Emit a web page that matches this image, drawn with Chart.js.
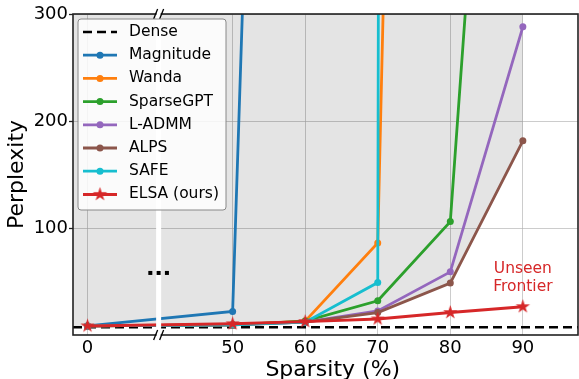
<!DOCTYPE html>
<html lang="en">
<head>
<meta charset="UTF-8">
<title>Perplexity vs Sparsity</title>
<script src="https://cdn.jsdelivr.net/npm/chart.js@4.4.0/dist/chart.umd.min.js"></script>
<style>
  html, body { margin: 0; padding: 0; background: #fff; overflow: hidden; }
  canvas { display: block; }
</style>
</head>
<body>
<canvas id="chart" width="579" height="379"></canvas>
<script>
// data
const sparsity = [0, 50, 60, 70, 80, 90];
const sparsityLabels = ['0', '50', '60', '70', '80', '90'];
const densePpl = 7.2;
const magnitude = [8.5, 22, 2100, null, null, null];
const wanda     = [8.5, 9.5, 13, 86, 3000, null];
const sparsegpt = [8.5, 9.5, 13, 32, 106, 1050];
const ladmm     = [8.5, 9.5, 12, 22.5, 59, 288];
const alps      = [8.5, 9.5, 12, 21, 48.5, 181.5];
const safe      = [8.5, 9.5, 12, 49, 50000, null];
const elsa      = [8.5, 10.5, 12.5, 15, 21, 26.5];
const yTicks = [100, 200, 300];

// broken x axis: 0 sits two slots left of 50
const axisPos = s => s === 0 ? 0 : s / 10 - 3;
const X_MIN = -0.2, X_MAX = 6.76;
const BREAK_POS = 0.98;

const FONT = "'DejaVu Sans', sans-serif";
Chart.defaults.font.family = FONT;
Chart.defaults.color = '#000';

function makeStar(r, color) {
  const s = Math.ceil(r * 2 + 2);
  const c = document.createElement('canvas');
  c.width = s; c.height = s;
  const g = c.getContext('2d');
  g.translate(s / 2, s / 2);
  g.beginPath();
  for (let i = 0; i < 10; i++) {
    const rad = i % 2 ? r * 0.382 : r;
    const a = -Math.PI / 2 + i * Math.PI / 5;
    g.lineTo(rad * Math.cos(a), rad * Math.sin(a));
  }
  g.closePath();
  g.fillStyle = color;
  g.fill();
  return c;
}
const star = makeStar(7.5, '#d62728');

const pts = arr => arr.map((v, i) => ({ x: axisPos(sparsity[i]), y: v })).filter(p => p.y !== null);

// lower envelope of the baselines -> boundary of the shaded "seen" region
const baselines = [magnitude, wanda, sparsegpt, ladmm, alps, safe];
const frontier = sparsity.map((s, i) => Math.min(...baselines.map(b => b[i]).filter(v => v !== null)));
const frontierPts = [{ x: X_MIN, y: frontier[0] }].concat(pts(frontier));

function series(label, arr, color, order) {
  return {
    label, data: pts(arr), borderColor: color, backgroundColor: color,
    borderWidth: 2.8, pointRadius: 3.5, pointBorderWidth: 0, pointHoverRadius: 3.5,
    tension: 0, fill: false, order, inLegend: true
  };
}

const datasets = [
  { label: 'seen', data: frontierPts, borderWidth: 0, pointRadius: 0,
    fill: 'end', backgroundColor: 'rgba(0,0,0,0.105)', order: 10 },
  { label: 'Dense', data: [{ x: X_MIN, y: densePpl }, { x: X_MAX, y: densePpl }],
    borderColor: '#000', borderWidth: 2.4, borderDash: [9, 5], pointRadius: 0,
    fill: false, order: 9, inLegend: true },
  series('Magnitude', magnitude, '#1f77b4', 7),
  series('Wanda', wanda, '#ff7f0e', 6),
  series('SparseGPT', sparsegpt, '#2ca02c', 5),
  series('L-ADMM', ladmm, '#9467bd', 4),
  series('ALPS', alps, '#8c564b', 3),
  series('SAFE', safe, '#17becf', 2),
  Object.assign(series('ELSA (ours)', elsa, '#d62728', 1),
    { pointStyle: star, pointRadius: 8, borderWidth: 3 })
];

const decorations = {
  id: 'decorations',
  afterDatasetsDraw(chart) {
    const { ctx, chartArea: a, scales: { x, y } } = chart;
    const bx = x.getPixelForValue(BREAK_POS);
    ctx.save();
    // white gap of the broken axis
    ctx.fillStyle = '#fff';
    ctx.fillRect(bx - 2.5, a.top, 5, a.bottom - a.top);
    // "..." in the gap
    ctx.fillStyle = '#000';
    const dy = y.getPixelForValue(58);
    [-8.3, 0, 8.3].forEach(d => ctx.fillRect(bx + d - 2, dy - 2, 4, 4));
    // annotation
    ctx.fillStyle = '#d62728';
    ctx.font = '15.5px ' + FONT;
    ctx.textAlign = 'center';
    ctx.textBaseline = 'middle';
    const ax = x.getPixelForValue(axisPos(90));
    ctx.fillText('Unseen', ax, y.getPixelForValue(62));
    ctx.fillText('Frontier', ax, y.getPixelForValue(62) + 18.5);
    // frame
    ctx.strokeStyle = '#222';
    ctx.lineWidth = 1.6;
    ctx.strokeRect(a.left, a.top, a.right - a.left, a.bottom - a.top);
    // break marks
    ctx.lineWidth = 1.3;
    ctx.strokeStyle = '#000';
    [a.top, a.bottom].forEach(cy => {
      ctx.fillStyle = '#fff';
      ctx.fillRect(bx - 2, cy - 1, 4, 2);
      [-3, 3].forEach(d => {
        ctx.beginPath();
        ctx.moveTo(bx + d - 2, cy + 5);
        ctx.lineTo(bx + d + 2, cy - 5);
        ctx.stroke();
      });
    });
    // x axis title, centred between the 0 tick and the right edge
    ctx.fillStyle = '#000';
    ctx.font = '22px ' + FONT;
    ctx.textAlign = 'center';
    ctx.textBaseline = 'alphabetic';
    ctx.fillText('Sparsity (%)', (x.getPixelForValue(0) + a.right) / 2, 376);
    // legend
    const lx = a.left + 5, ly = a.top + 5, lw = 148, lh = 191;
    ctx.beginPath();
    ctx.roundRect(lx, ly, lw, lh, 3);
    ctx.fillStyle = 'rgba(255,255,255,0.85)';
    ctx.fill();
    ctx.strokeStyle = '#888';
    ctx.lineWidth = 1;
    ctx.stroke();
    ctx.font = '15.5px ' + FONT;
    ctx.textAlign = 'left';
    ctx.textBaseline = 'middle';
    chart.data.datasets.filter(d => d.inLegend).forEach((d, i) => {
      const ry = ly + 13 + i * 23.2;
      ctx.strokeStyle = d.borderColor;
      ctx.lineWidth = d.borderWidth;
      ctx.setLineDash(d.borderDash || []);
      ctx.beginPath();
      ctx.moveTo(lx + 5, ry);
      ctx.lineTo(lx + 39, ry);
      ctx.stroke();
      ctx.setLineDash([]);
      if (d.pointStyle) {
        ctx.drawImage(d.pointStyle, lx + 22 - d.pointStyle.width / 2, ry - d.pointStyle.height / 2);
      } else if (d.pointRadius) {
        ctx.fillStyle = d.borderColor;
        ctx.beginPath();
        ctx.arc(lx + 22, ry, d.pointRadius, 0, Math.PI * 2);
        ctx.fill();
      }
      ctx.fillStyle = '#000';
      ctx.fillText(d.label, lx + 51, ry);
    });
    ctx.restore();
  }
};

new Chart(document.getElementById('chart'), {
  type: 'line',
  data: { datasets },
  plugins: [decorations],
  options: {
    responsive: false,
    animation: false,
    events: [],
    layout: { autoPadding: false, padding: { top: 14, right: 1, left: 0, bottom: 0 } },
    plugins: { legend: { display: false }, tooltip: { enabled: false } },
    scales: {
      x: {
        type: 'linear', min: X_MIN, max: X_MAX,
        afterBuildTicks: s => { s.ticks = sparsity.map(v => ({ value: axisPos(v) })); },
        afterFit: s => { s.height = 44; s.paddingLeft = 0; s.paddingRight = 0; },
        ticks: {
          font: { size: 18 }, padding: 3, maxRotation: 0, autoSkip: false,
          callback: v => sparsityLabels[sparsity.findIndex(s => axisPos(s) === v)]
        },
        grid: { color: 'rgba(176,176,176,0.65)', lineWidth: 1, drawTicks: false },
        border: { display: false },
        title: { display: false }
      },
      y: {
        type: 'linear', min: 0, max: 300,
        afterBuildTicks: s => { s.ticks = yTicks.map(v => ({ value: v })); },
        afterFit: s => { s.width = 73; },
        ticks: { font: { size: 18 }, padding: 1 },
        grid: { color: 'rgba(176,176,176,0.65)', lineWidth: 1, tickLength: 4, tickColor: '#222', tickWidth: 1.3 },
        border: { display: false },
        title: { display: true, text: 'Perplexity', font: { size: 22 }, padding: { top: 4, bottom: 0 } }
      }
    }
  }
});
</script>
</body>
</html>
